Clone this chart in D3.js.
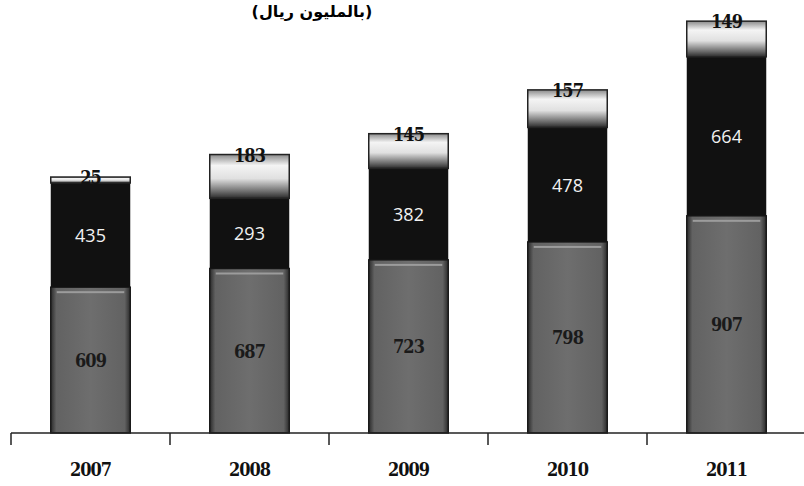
<!DOCTYPE html>
<html>
<head>
<meta charset="utf-8">
<script src="https://cdn.jsdelivr.net/npm/d3@7"></script>
<style>
  body { margin: 0; background: #fff; }
  svg { display: block; }
</style>
</head>
<body>
<div id="chart"></div>
<script>
const width = 804;
const height = 486;

const years = ["2007", "2008", "2009", "2010", "2011"];
const bottomValues = [609, 687, 723, 798, 907];
const middleValues = [435, 293, 382, 478, 664];
const topValues = [25, 183, 145, 157, 149];
const titleText = "(بالمليون ريال)";

const svg = d3.select("#chart").append("svg")
  .attr("width", width)
  .attr("height", height);

const defs = svg.append("defs");

// gray bottom segment: darker at edges
const gGray = defs.append("linearGradient").attr("id", "gGray");
gGray.append("stop").attr("offset", "0%").attr("stop-color", "#2a2a2a");
gGray.append("stop").attr("offset", "7%").attr("stop-color", "#626262");
gGray.append("stop").attr("offset", "50%").attr("stop-color", "#6e6e6e");
gGray.append("stop").attr("offset", "93%").attr("stop-color", "#626262");
gGray.append("stop").attr("offset", "100%").attr("stop-color", "#2a2a2a");

// light top segment
const gLight = defs.append("linearGradient").attr("id", "gLight")
  .attr("x1", 0).attr("y1", 0).attr("x2", 0).attr("y2", 1);
gLight.append("stop").attr("offset", "0%").attr("stop-color", "#8a8a8a");
gLight.append("stop").attr("offset", "25%").attr("stop-color", "#f4f4f4");
gLight.append("stop").attr("offset", "55%").attr("stop-color", "#e0e0e0");
gLight.append("stop").attr("offset", "85%").attr("stop-color", "#6a6a6a");
gLight.append("stop").attr("offset", "100%").attr("stop-color", "#2a2a2a");

const x = d3.scaleBand()
  .domain(years)
  .range([11, 806])
  .paddingInner(0.5)
  .paddingOuter(0.25);

const y = d3.scaleLinear()
  .domain([0, 1800])
  .range([433, 2]);

// title
svg.append("text")
  .attr("x", 312)
  .attr("y", 17)
  .attr("text-anchor", "middle")
  .attr("direction", "rtl")
  .style("font-family", "'DejaVu Sans', 'Noto Sans'")
  .style("font-weight", "bold")
  .style("font-size", "16px")
  .text(titleText);

const rows = years.map((yr, i) => ({
  year: yr,
  b: bottomValues[i],
  m: middleValues[i],
  t: topValues[i]
}));

const bars = svg.append("g").selectAll("g")
  .data(rows)
  .enter()
  .append("g")
  .attr("transform", d => "translate(" + x(d.year) + ",0)");

const bw = x.bandwidth();

// bottom gray
bars.append("rect")
  .attr("x", 0)
  .attr("width", bw)
  .attr("y", d => y(d.b))
  .attr("height", d => y(0) - y(d.b))
  .attr("fill", "url(#gGray)")
  .attr("stroke", "#1a1a1a")
  .attr("stroke-width", 1.5);

// highlight line at top of gray
bars.append("rect")
  .attr("x", 6)
  .attr("width", bw - 12)
  .attr("y", d => y(d.b) + 4)
  .attr("height", 2)
  .attr("fill", "#9c9c9c");

// middle black
bars.append("rect")
  .attr("x", 0)
  .attr("width", bw)
  .attr("y", d => y(d.b + d.m))
  .attr("height", d => y(d.b) - y(d.b + d.m))
  .attr("fill", "#111");

// top light
bars.append("rect")
  .attr("x", 0)
  .attr("width", bw)
  .attr("y", d => y(d.b + d.m + d.t))
  .attr("height", d => y(d.b + d.m) - y(d.b + d.m + d.t))
  .attr("fill", "url(#gLight)")
  .attr("stroke", "#222")
  .attr("stroke-width", 1.5);

// labels
const numFont = "'DejaVu Serif Condensed', 'Liberation Serif', serif";

bars.append("text")
  .attr("x", bw / 2)
  .attr("y", d => y(d.b / 2) + 7)
  .attr("text-anchor", "middle")
  .style("font-family", numFont)
  .style("font-weight", "bold")
  .style("font-size", "18px")
  .style("letter-spacing", "-1px")
  .attr("fill", "#1a1a1a")
  .text(d => d.b);

bars.append("text")
  .attr("x", bw / 2)
  .attr("y", d => y(d.b + d.m / 2) + 7)
  .attr("text-anchor", "middle")
  .style("font-family", "'Open Sans', sans-serif")
  .style("font-size", "18px")
  .attr("fill", "#f2f2f2")
  .text(d => d.m);

bars.append("text")
  .attr("x", bw / 2)
  .attr("y", d => y(d.b + d.m + d.t) + 7)
  .attr("text-anchor", "middle")
  .style("font-family", numFont)
  .style("font-weight", "bold")
  .style("font-size", "18px")
  .style("letter-spacing", "-1px")
  .attr("fill", "#111")
  .text(d => d.t);

// axis
const axis = svg.append("g");
axis.append("line")
  .attr("x1", 11).attr("x2", width)
  .attr("y1", y(0)).attr("y2", y(0))
  .attr("stroke", "#222")
  .attr("stroke-width", 1.5);

const boundaries = years.map(yr => x(yr) - x.step() * x.paddingInner() / 2);
axis.selectAll("line.tick")
  .data(boundaries)
  .enter()
  .append("line")
  .attr("class", "tick")
  .attr("x1", d => d).attr("x2", d => d)
  .attr("y1", y(0)).attr("y2", y(0) + 12)
  .attr("stroke", "#222")
  .attr("stroke-width", 1.5);

axis.selectAll("text")
  .data(years)
  .enter()
  .append("text")
  .attr("x", d => x(d) + bw / 2)
  .attr("y", 476)
  .attr("text-anchor", "middle")
  .style("font-family", numFont)
  .style("font-weight", "bold")
  .style("font-size", "18px")
  .style("letter-spacing", "-1px")
  .attr("fill", "#111")
  .text(d => d);
</script>
</body>
</html>
